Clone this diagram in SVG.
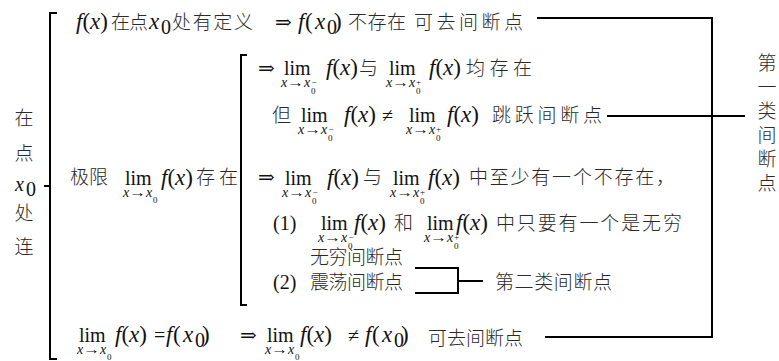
<svg xmlns="http://www.w3.org/2000/svg" xmlns:xlink="http://www.w3.org/1999/xlink" width="779" height="361" viewBox="0 0 779 361">
<style>
.m{font-family:"Liberation Serif","DejaVu Serif",serif;font-size:20px;fill:#111}
.f{font-size:23px}
.i{font-style:italic}
.sb{font-size:14px}
.z{font-size:9px}
.c{font-family:"Noto Sans CJK SC",sans-serif;font-size:19px;fill:#2a2a2a;font-weight:300}
.ln{stroke:#000;stroke-width:2;fill:none}
</style>
<defs>
<text id="fx" class="m f"><tspan class="i">f</tspan>(<tspan class="i">x</tspan>)</text>
<g id="lim-m">
<text class="m" x="3" y="0" font-size="19">lim</text>
<text class="m sb i" x="0" y="12">x</text>
<text class="m sb" x="6" y="12" textLength="17" lengthAdjust="spacingAndGlyphs">→</text>
<text class="m sb i" x="23" y="12">x</text>
<text class="m z" x="30" y="19">0</text>
<text class="m z" x="30.5" y="10">−</text>
</g>
<g id="lim-p">
<text class="m" x="3" y="0" font-size="19">lim</text>
<text class="m sb i" x="0" y="12">x</text>
<text class="m sb" x="6" y="12" textLength="17" lengthAdjust="spacingAndGlyphs">→</text>
<text class="m sb i" x="23" y="12">x</text>
<text class="m z" x="30" y="19">0</text>
<text class="m z" x="30" y="10">+</text>
</g>
<g id="lim-0">
<text class="m" x="2" y="0" font-size="19">lim</text>
<text class="m sb i" x="0" y="12">x</text>
<text class="m sb" x="6" y="12" textLength="17" lengthAdjust="spacingAndGlyphs">→</text>
<text class="m sb i" x="23" y="12">x</text>
<text class="m z" x="30" y="18">0</text>
</g>
<g id="fx0">
<text class="m f i" x="0" y="0">f</text>
<text class="m f" x="7" y="0">(</text>
<text class="m f i" x="17" y="0">x</text>
<text class="m" x="29" y="5" font-size="11">0</text>
<text class="m f" x="36" y="0">)</text>
</g>
</defs>

<g id="connectors">
<path class="ln" d="M57,13 H50 V359 H57 M44,186 H50"/>
<path class="ln" d="M247,55 H241 V305 H247"/>
<path class="ln" d="M537,18 H712 V337 H545"/>
<path class="ln" d="M607,116 H745"/>
<path class="ln" d="M415,268 H458 V293 H415 M458,281 H483"/>
</g>

<g id="node-root">
<text class="c" x="24" y="125" text-anchor="middle" font-size="18">在</text>
<text class="c" x="24" y="160" text-anchor="middle" font-size="18">点</text>
<text class="m i" x="15" y="191" font-size="22">x</text>
<text class="m" x="26" y="196" font-size="11">0</text>
<text class="c" x="24" y="220" text-anchor="middle" font-size="18">处</text>
<text class="c" x="24" y="254" text-anchor="middle" font-size="18">连</text>
</g>

<g id="node-defined">
<use xlink:href="#fx" x="76" y="29"/>
<text class="c" x="111" y="29" textLength="37">在点</text>
<text class="m f i" x="149" y="29">x</text>
<text class="m" x="161" y="34" font-size="11">0</text>
<text class="c" x="172" y="29" textLength="81">处有定义</text>
<text class="m" x="275" y="29">⇒</text>
<use xlink:href="#fx0" x="298" y="29"/>
<text class="c" x="348" y="29" textLength="58">不存在</text>
<text class="c" x="414" y="29" textLength="109">可去间断点</text>
</g>

<g id="node-limit">
<text class="c" x="70" y="184" textLength="38">极限</text>
<use xlink:href="#lim-0" x="123" y="185"/>
<use xlink:href="#fx" x="161" y="185"/>
<text class="c" x="196" y="184" textLength="42">存在</text>
</g>

<g id="node-both-exist">
<text class="m" x="258" y="75">⇒</text>
<use xlink:href="#lim-m" x="281" y="75"/>
<use xlink:href="#fx" x="326" y="75"/>
<text class="c" x="359" y="75" textLength="19">与</text>
<use xlink:href="#lim-p" x="386" y="75"/>
<use xlink:href="#fx" x="429" y="75"/>
<text class="c" x="466" y="75" textLength="66">均存在</text>
</g>

<g id="node-jump">
<text class="c" x="272" y="122" textLength="19">但</text>
<use xlink:href="#lim-m" x="298" y="122"/>
<use xlink:href="#fx" x="344" y="122"/>
<text class="m" x="382" y="122">≠</text>
<use xlink:href="#lim-p" x="406" y="122"/>
<use xlink:href="#fx" x="447" y="122"/>
<text class="c" x="492" y="122" textLength="110">跳跃间断点</text>
</g>

<g id="node-first-kind">
<text class="c" x="767" y="53" writing-mode="vertical-rl" font-size="17" letter-spacing="5">第一类间断点</text>
</g>

<g id="node-not-exist">
<text class="m" x="258" y="184">⇒</text>
<use xlink:href="#lim-m" x="282" y="185"/>
<use xlink:href="#fx" x="327" y="185"/>
<text class="c" x="363" y="184" textLength="19">与</text>
<use xlink:href="#lim-p" x="390" y="185"/>
<use xlink:href="#fx" x="428" y="185"/>
<text class="c" x="469" y="184" textLength="206">中至少有一个不存在，</text>
</g>

<g id="node-case1">
<text class="m" x="273" y="230">(1)</text>
<use xlink:href="#lim-m" x="318" y="230"/>
<use xlink:href="#fx" x="354" y="230"/>
<text class="c" x="394" y="230" textLength="20">和</text>
<use xlink:href="#lim-p" x="424" y="230"/>
<use xlink:href="#fx" x="456" y="230"/>
<text class="c" x="496" y="230" textLength="186">中只要有一个是无穷</text>
</g>

<g id="node-infinite">
<text class="c" x="310" y="264" textLength="93" font-size="16">无穷间断点</text>
</g>

<g id="node-oscillating">
<text class="m" x="273" y="289">(2)</text>
<text class="c" x="310" y="289" textLength="93" font-size="16">震荡间断点</text>
</g>

<g id="node-second-kind">
<text class="c" x="495" y="289" textLength="117">第二类间断点</text>
</g>

<g id="node-continuous">
<use xlink:href="#lim-0" x="77" y="342"/>
<use xlink:href="#fx" x="115" y="342"/>
<text class="m" x="154" y="342">=</text>
<use xlink:href="#fx0" x="166" y="342"/>
<text class="m" x="240" y="342">⇒</text>
<use xlink:href="#lim-0" x="265" y="342"/>
<use xlink:href="#fx" x="300" y="342"/>
<text class="m" x="348" y="342">≠</text>
<use xlink:href="#fx0" x="365" y="342"/>
<text class="c" x="428" y="345" textLength="95">可去间断点</text>
</g>
</svg>
